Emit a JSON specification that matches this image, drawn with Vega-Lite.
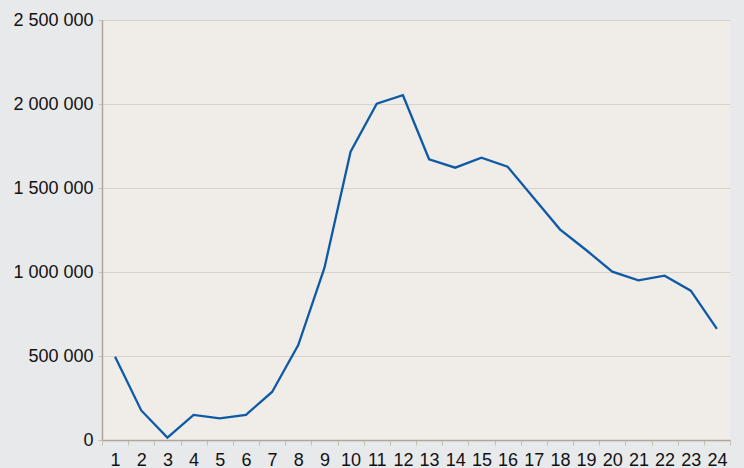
{
  "$schema": "https://vega.github.io/schema/vega-lite/v6.json",
  "autosize": {"type": "none"},
  "padding": {"left": 102, "top": 20, "right": 14, "bottom": 28},
  "width": 628,
  "height": 420,
  "background": "#e8e9eb",
  "config": {
    "locale": {"number": {"decimal": ",", "thousands": " ", "grouping": [3], "currency": ["", ""]}},
    "view": {"fill": "#f0ede8", "stroke": null},
    "font": "Liberation Sans",
    "axis": {
      "labelFont": "Liberation Sans",
      "labelFontSize": 18,
      "labelColor": "#111111",
      "domainColor": "#b0a698",
      "tickColor": "#c8c0b6",
      "gridColor": "#d8d2ca",
      "title": null
    }
  },
  "data": {
    "values": [
      {"n": 1, "v": 495000},
      {"n": 2, "v": 176000},
      {"n": 3, "v": 14000},
      {"n": 4, "v": 149000},
      {"n": 5, "v": 129000},
      {"n": 6, "v": 150000},
      {"n": 7, "v": 286000},
      {"n": 8, "v": 565000},
      {"n": 9, "v": 1024000},
      {"n": 10, "v": 1716000},
      {"n": 11, "v": 2002000},
      {"n": 12, "v": 2052000},
      {"n": 13, "v": 1671000},
      {"n": 14, "v": 1621000},
      {"n": 15, "v": 1680000},
      {"n": 16, "v": 1627000},
      {"n": 17, "v": 1440000},
      {"n": 18, "v": 1254000},
      {"n": 19, "v": 1131000},
      {"n": 20, "v": 1002000},
      {"n": 21, "v": 950000},
      {"n": 22, "v": 978000},
      {"n": 23, "v": 889000},
      {"n": 24, "v": 661000}
    ]
  },
  "mark": {"type": "line", "color": "#0e5aa7", "strokeWidth": 2.3},
  "encoding": {
    "x": {
      "field": "n",
      "type": "ordinal",
      "bandPosition": 0.5,
      "scale": {"type": "band", "paddingInner": 0, "paddingOuter": 0},
      "axis": {
        "labelAngle": 0,
        "tickBand": "extent",
        "tickSize": 5,
        "labelPadding": 6,
        "grid": false,
        "domainWidth": 1.5
      }
    },
    "y": {
      "field": "v",
      "type": "quantitative",
      "scale": {"domain": [0, 2500000], "nice": false},
      "axis": {
        "values": [0, 500000, 1000000, 1500000, 2000000, 2500000],
        "format": ",d",
        "tickSize": 4,
        "labelPadding": 5,
        "grid": true,
        "domainWidth": 1.5
      }
    }
  }
}
